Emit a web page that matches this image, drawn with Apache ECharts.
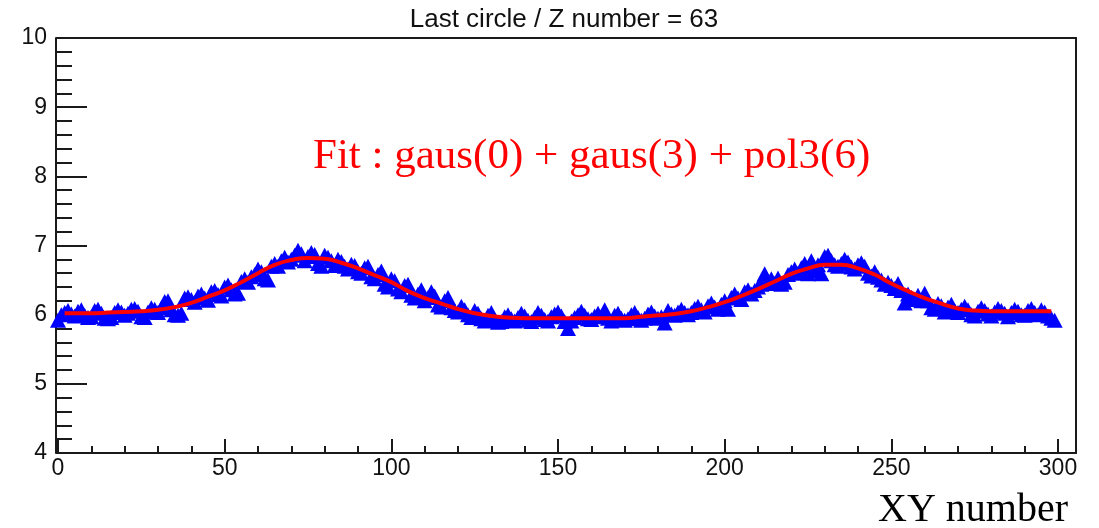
<!DOCTYPE html>
<html><head><meta charset="utf-8">
<script src="https://cdn.jsdelivr.net/npm/echarts@6/dist/echarts.min.js"></script>
<style>html,body{margin:0;padding:0;background:#fff}#c{width:1099px;height:528px}</style>
</head><body><div id="c"></div>
<script>
const titleText = 'Last circle / Z number = 63';
const fitLabel = 'Fit : gaus(0) + gaus(3) + pol3(6)';
const xTitle = 'XY number';
const xTickLabels = [0, 50, 100, 150, 200, 250, 300];
const yTickLabels = [4, 5, 6, 7, 8, 9, 10];

// measured value for each XY number (index = XY number)
const measured = [
  5.92, 6.00, 6.03, 6.06, 6.01, 5.98, 6.05, 6.07, 5.99, 5.96,
  5.97, 6.06, 6.08, 6.02, 5.95, 5.94, 5.96, 6.03, 6.07, 6.04,
  5.99, 6.02, 6.08, 6.09, 6.05, 5.97, 5.96, 6.04, 6.10, 6.08,
  6.03, 6.10, 6.19, 6.20, 6.07, 6.00, 5.99, 6.02, 6.24, 6.26,
  6.22, 6.18, 6.27, 6.30, 6.24, 6.21, 6.33, 6.35, 6.29, 6.27,
  6.40, 6.43, 6.36, 6.30, 6.31, 6.48, 6.52, 6.47, 6.55, 6.58,
  6.66, 6.62, 6.52, 6.50, 6.70, 6.74, 6.70, 6.78, 6.83, 6.76,
  6.80, 6.86, 6.93, 6.88, 6.78, 6.84, 6.90, 6.87, 6.74, 6.70,
  6.86, 6.83, 6.78, 6.71, 6.80, 6.77, 6.70, 6.66, 6.73, 6.71,
  6.62, 6.60, 6.68, 6.70, 6.55, 6.52, 6.58, 6.63, 6.44, 6.40,
  6.52, 6.49, 6.37, 6.33, 6.42, 6.44, 6.28, 6.24, 6.30, 6.36,
  6.20, 6.25, 6.33, 6.27, 6.14, 6.11, 6.20, 6.25, 6.10, 6.06,
  6.04, 6.12, 6.07, 6.00, 5.96, 6.06, 6.02, 5.94, 5.91, 5.99,
  6.03, 5.92, 5.89, 5.90, 5.97, 6.00, 5.94, 5.91, 5.96, 6.02,
  5.98, 5.92, 5.90, 5.96, 6.03, 5.99, 5.93, 5.91, 5.97, 6.01,
  6.04, 5.98, 5.90, 5.80, 5.91, 5.96, 6.00, 6.05, 5.99, 5.94,
  5.93, 5.98, 6.02, 5.97, 6.07, 5.95, 5.91, 5.99, 6.02, 5.95,
  5.92, 5.94, 6.00, 6.03, 5.96, 5.92, 5.95, 6.01, 6.04, 5.98,
  5.95, 5.97, 5.88, 6.06, 6.01, 5.99, 6.04, 6.08, 6.03, 6.00,
  6.03, 6.09, 6.12, 6.07, 6.04, 6.13, 6.17, 6.11, 6.08, 6.15,
  6.20, 6.08, 6.25, 6.30, 6.24, 6.22, 6.33, 6.36, 6.30, 6.35,
  6.40, 6.44, 6.59, 6.48, 6.52, 6.45, 6.53, 6.44, 6.47, 6.58,
  6.62, 6.66, 6.60, 6.68, 6.74, 6.59, 6.78, 6.63, 6.72, 6.59,
  6.84, 6.86, 6.78, 6.72, 6.70, 6.74, 6.80, 6.76, 6.69, 6.66,
  6.72, 6.75, 6.70, 6.60, 6.56, 6.62, 6.54, 6.50, 6.44, 6.47,
  6.42, 6.38, 6.45, 6.35, 6.17, 6.30, 6.25, 6.22, 6.28, 6.20,
  6.31, 6.20, 6.10, 6.08, 6.16, 6.13, 6.04, 6.11, 6.15, 6.06,
  6.03, 6.08, 6.12, 6.07, 6.00, 5.98, 6.05, 6.10, 6.06, 6.01,
  5.98, 6.04, 6.09, 6.06, 6.02, 5.97, 6.03, 6.08, 6.05, 6.00,
  5.99, 6.06, 6.09, 6.03, 6.00, 6.07, 6.04, 5.98, 5.95, 5.92
];

// fit curve
const fitX = [2,5,10,15,20,25,30,35,40,45,50,55,60,65,70,75,80,85,90,95,100,105,110,115,120,125,130,135,140,145,150,155,160,165,170,175,180,185,190,195,200,205,210,215,220,225,230,235,240,245,250,255,260,265,270,275,280,285,290,295,298];
const fitY = [6.02,6.02,6.02,6.03,6.04,6.05,6.07,6.11,6.17,6.26,6.35,6.47,6.60,6.72,6.79,6.82,6.81,6.75,6.67,6.57,6.47,6.34,6.24,6.16,6.08,6.02,5.98,5.96,5.95,5.95,5.95,5.95,5.95,5.95,5.95,5.97,5.99,6.01,6.05,6.11,6.18,6.27,6.37,6.48,6.59,6.67,6.72,6.72,6.67,6.58,6.45,6.34,6.24,6.16,6.09,6.06,6.05,6.05,6.05,6.05,6.05];

const X_MIN = 0, X_MAX = 305.4, Y_MIN = yTickLabels[0], Y_MAX = yTickLabels[yTickLabels.length - 1];
const ink = '#1a1a1a';
const gridRect = { left: 58, right: 23, top: 38, bottom: 75, containLabel: false };
const tickFont = 'Liberation Sans, Arial, sans-serif';

const chart = echarts.init(document.getElementById('c'), null, { renderer: 'canvas' });
chart.setOption({
  animation: false,
  backgroundColor: '#fff',
  grid: [Object.assign({}, gridRect), Object.assign({}, gridRect)],
  xAxis: [
    {
      type: 'value', gridIndex: 0, position: 'bottom', min: X_MIN, max: X_MAX, interval: 50,
      axisLine: { show: true, onZero: false, lineStyle: { color: ink, width: 2 } },
      axisTick: { show: true, inside: true, length: 14, lineStyle: { color: ink, width: 2 } },
      minorTick: { show: false },
      splitLine: { show: false },
      axisLabel: {
        show: true, margin: 4, fontSize: 23, color: '#111', fontFamily: tickFont,
        showMaxLabel: false,
        formatter: v => (xTickLabels.indexOf(v) >= 0 ? String(v) : '')
      }
    },
    {
      type: 'value', gridIndex: 0, position: 'top', min: X_MIN, max: X_MAX,
      axisLine: { show: true, onZero: false, lineStyle: { color: ink, width: 2 } },
      axisTick: { show: false }, axisLabel: { show: false }, splitLine: { show: false }
    },
    {
      type: 'value', gridIndex: 1, position: 'bottom', min: X_MIN, max: X_MAX, interval: 10,
      axisLine: { show: false, onZero: false },
      axisTick: { show: true, inside: true, length: 7, lineStyle: { color: ink, width: 2 } },
      axisLabel: { show: false }, splitLine: { show: false }
    }
  ],
  yAxis: [
    {
      type: 'value', gridIndex: 0, position: 'left', offset: 2, min: Y_MIN, max: Y_MAX, interval: 1,
      axisLine: { show: true, onZero: false, lineStyle: { color: ink, width: 2 } },
      axisTick: { show: true, inside: true, length: 31, lineStyle: { color: ink, width: 2 } },
      minorTick: { show: true, splitNumber: 5, length: 16, lineStyle: { color: ink, width: 2 } },
      splitLine: { show: false }, minorSplitLine: { show: false },
      axisLabel: { show: true, margin: 9, fontSize: 23, color: '#111', fontFamily: tickFont }
    },
    {
      type: 'value', gridIndex: 0, position: 'right', min: Y_MIN, max: Y_MAX,
      axisLine: { show: true, onZero: false, lineStyle: { color: ink, width: 2 } },
      axisTick: { show: false }, axisLabel: { show: false }, splitLine: { show: false }
    },
    { type: 'value', gridIndex: 1, show: false, min: Y_MIN, max: Y_MAX }
  ],
  series: [
    {
      type: 'scatter', xAxisIndex: 0, yAxisIndex: 0,
      symbol: 'triangle', symbolSize: [16, 15],
      itemStyle: { color: '#0000ff', opacity: 1 },
      data: measured.map((v, i) => [i, v]),
      z: 2
    },
    {
      type: 'line', xAxisIndex: 0, yAxisIndex: 0,
      showSymbol: false, smooth: true,
      lineStyle: { color: '#ff0000', width: 4 },
      data: fitX.map((x, i) => [x, fitY[i]]),
      z: 3
    }
  ],
  graphic: [
    { type: 'text', style: { text: titleText, x: 564, y: 20, fill: '#111', font: '26px "Liberation Sans", Arial, sans-serif', textAlign: 'center', textVerticalAlign: 'middle' } },
    { type: 'text', style: { text: fitLabel, x: 313, y: 157, fill: '#ff0000', font: '43px "Liberation Serif", "Times New Roman", serif', textAlign: 'left', textVerticalAlign: 'middle' } },
    { type: 'text', style: { text: xTitle, x: 1068, y: 510, fill: '#000', font: '40px "Liberation Serif", "Times New Roman", serif', textAlign: 'right', textVerticalAlign: 'middle' } }
  ]
});
</script>
</body></html>
